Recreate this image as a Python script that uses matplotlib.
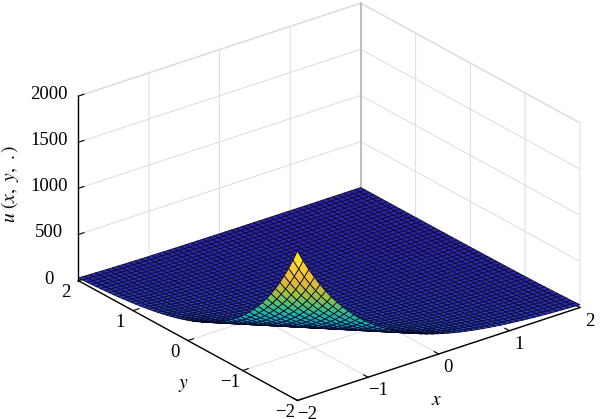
import numpy as np
import matplotlib
matplotlib.use('Agg')
import matplotlib.pyplot as plt
from matplotlib.colors import LinearSegmentedColormap

plt.rcParams['font.family'] = ['Liberation Serif', 'DejaVu Serif']
plt.rcParams['mathtext.fontset'] = 'stix'
plt.rcParams['grid.color'] = '#dcdcdc'
plt.rcParams['grid.linewidth'] = 0.7

# grid of the surface
x_vals = np.arange(-2, 2.01, 0.08)
y_vals = np.arange(-2, 2.01, 0.08)

# height read along the front edge, one value per grid step away from the corner
u_edge = [1620, 1495, 1380, 1274, 1176, 1085, 1002, 925, 854, 788,
          728, 672, 620, 572, 528, 488, 450, 415, 383, 354,
          327, 302, 278, 257, 237, 219, 202, 187, 172, 159,
          147, 136, 125, 116, 107, 99, 91, 84, 78, 72,
          66, 61, 56, 52, 48, 44, 41, 38, 35, 32,
          30, 28, 25, 24, 22, 20, 18, 17, 16, 15,
          13, 12, 11, 11, 10, 9, 8, 8, 7, 7,
          6, 6, 5, 5, 5, 4, 4, 4, 3, 3,
          3, 3, 2, 2, 2, 2, 2, 2, 1, 1,
          1, 1, 1, 1, 1, 1, 1, 1, 1, 1, 1]

x_ticks = [-2, -1, 0, 1, 2]
y_ticks = [-2, -1, 0, 1, 2]
z_ticks = [0, 500, 1000, 1500, 2000]

parula = LinearSegmentedColormap.from_list('parula', [
    '#2c25a8', '#2a5fd8', '#1a8fd0', '#12b0b0', '#3fc080',
    '#a0c040', '#e8b838', '#fbd030', '#f9fb15'])

X, Y = np.meshgrid(x_vals, y_vals)
idx = np.add.outer(np.arange(len(y_vals)), np.arange(len(x_vals)))
Z = np.array(u_edge)[idx]

fig = plt.figure(figsize=(6, 4.19), dpi=100)
ax = fig.add_axes([0.035, -0.217, 1.0, 1.432], projection='3d')
ax.set_proj_type('ortho')
ax.view_init(elev=25.1, azim=-127.8)
ax.set_box_aspect((1, 1, 0.57), zoom=0.882)

ax.plot_surface(X, Y, Z, cmap=parula, vmin=0, vmax=1620, rstride=1, cstride=1,
                edgecolor='#08082a', linewidth=0.55, shade=False, antialiased=True)
# back corner of the box
ax.plot([2, 2], [2, 2], [0, 2000], color='#b8b8b8', linewidth=1.2)

ax.set_xlim(-2, 2)
ax.set_ylim(-2, 2)
ax.set_zlim(0, 2000)
ax.set_xticks(x_ticks)
ax.set_yticks(y_ticks)
ax.set_zticks(z_ticks)
ax.tick_params(labelsize=13.5, pad=2)
ax.tick_params(axis='z', pad=5)

for axis in (ax.xaxis, ax.yaxis, ax.zaxis):
    axis.set_pane_color((1, 1, 1, 1))
    axis.pane.set_edgecolor('#e0e0e0')
    axis.line.set_color('black')
    axis.line.set_linewidth(1.0)
    axis._axinfo['tick']['inward_factor'] = 0.0
    axis._axinfo['tick']['outward_factor'] = 0.25
    for tick in axis.get_major_ticks():
        tick.label1.set_va('center')

fig.text(0.727, 0.045, r'$x$', fontsize=14, ha='center', va='center')
fig.text(0.305, 0.081, r'$y$', fontsize=14, ha='center', va='center')
fig.text(0.017, 0.561, r'$u\ (x,\ y,\ .)$', fontsize=14, rotation=90, ha='center', va='center')

fig.savefig('out.png', dpi=100)
